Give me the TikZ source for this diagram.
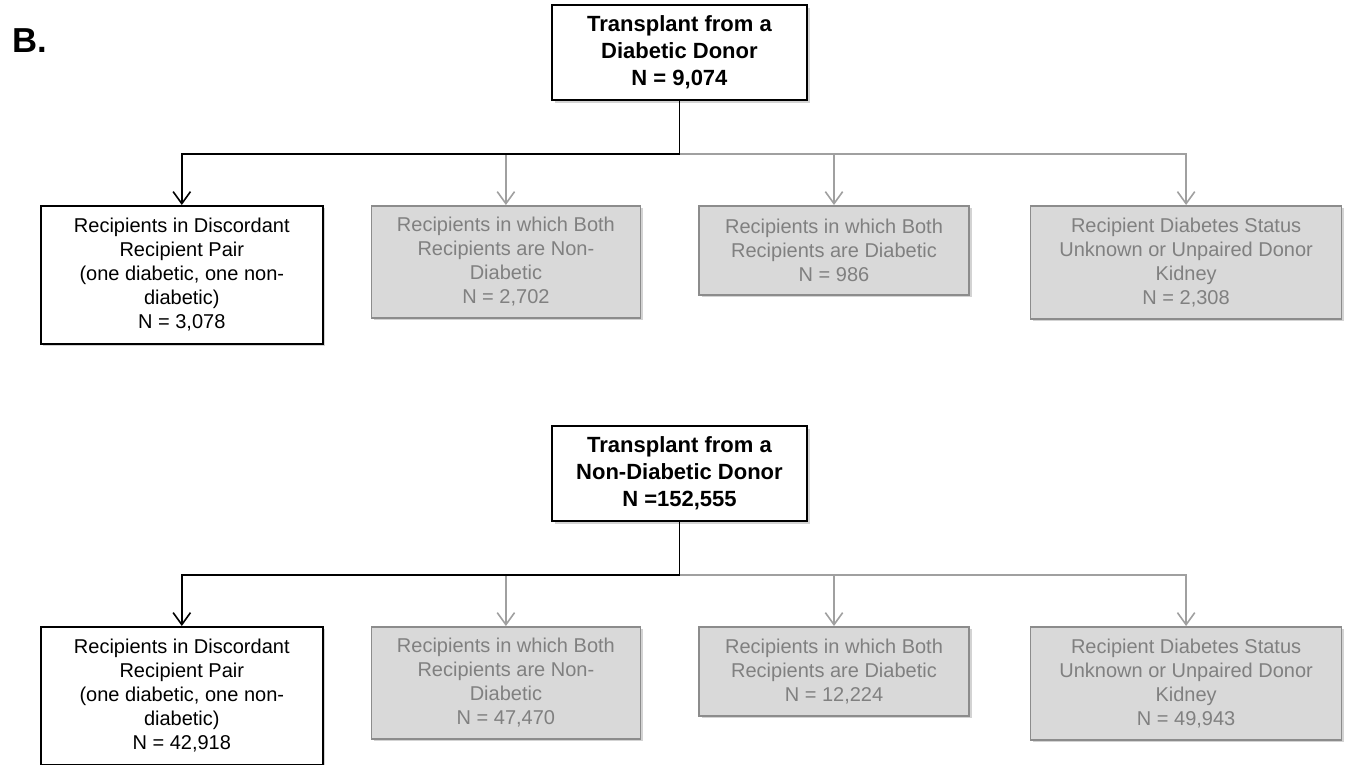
\documentclass[tikz,border=0pt]{standalone}
\usepackage{fontspec}
\setmainfont{Liberation Sans}
\usepackage{tikz}
\usetikzlibrary{positioning,arrows.meta,shadows}

\definecolor{boxgray}{HTML}{D9D9D9}
\definecolor{edgegray}{HTML}{8C8C8C}
\definecolor{textgray}{HTML}{808080}
\definecolor{linegray}{HTML}{A0A0A0}

\begin{document}
\begin{tikzpicture}[thick]

        % Styles
        \tikzstyle{donor} = [draw, rectangle, line width=1.2pt, fill=white, align=center, inner sep=2pt, minimum width=191.25pt, minimum height=71.25pt, font=\bfseries\fontsize{16.5pt}{20.25pt}\selectfont, drop shadow={shadow xshift=2pt, shadow yshift=-2pt, opacity=0.35}]
        \tikzstyle{keybox} = [draw, rectangle, line width=1.2pt, fill=white, align=center, inner sep=2pt, font=\fontsize{15pt}{18pt}\selectfont, drop shadow={shadow xshift=2pt, shadow yshift=-2pt, opacity=0.35}]
        \tikzstyle{graybox} = [draw=edgegray, rectangle, line width=1.2pt, fill=boxgray, text=textgray, align=center, inner sep=2pt, font=\fontsize{15pt}{18pt}\selectfont, drop shadow={shadow xshift=2pt, shadow yshift=-2pt, opacity=0.35}]
        \tikzstyle{blackarrow} = [line width=1.2pt, -{Straight Barb[length=9pt, width=13pt]}]
        \tikzstyle{grayarrow} = [line width=1.2pt, draw=linegray, -{Straight Barb[length=9pt, width=13pt]}]

        \useasboundingbox (0,0) rectangle (1008.75pt,-573pt);

        \node[font=\bfseries\fontsize{26pt}{30pt}\selectfont, anchor=north west, inner sep=0pt] (panel) at (9pt,-21pt) {B.};

        % Diabetic donor
        \node[donor] (dd) at (509.6pt,-39.4pt) {Transplant from a\\Diabetic Donor\\N = 9,074};
        \coordinate[below=39.75pt of dd.south] (ddsplit);
        \node[keybox, anchor=north west, minimum width=211.5pt, minimum height=103.5pt] (dd1) at (30pt,-153.75pt) {Recipients in Discordant\\Recipient Pair\\(one diabetic, one non-\\diabetic)\\N = 3,078};
        \node[graybox, right=35.25pt of dd1.north east, anchor=north west, minimum width=201.75pt, minimum height=84pt] (dd2) {Recipients in which Both\\Recipients are Non-\\Diabetic\\N = 2,702};
        \node[graybox, right=42.75pt of dd2.north east, anchor=north west, minimum width=202.5pt, minimum height=66.75pt] (dd3) {Recipients in which Both\\Recipients are Diabetic\\N = 986};
        \node[graybox, right=45pt of dd3.north east, anchor=north west, minimum width=233.25pt, minimum height=84.75pt] (dd4) {Recipient Diabetes Status\\Unknown or Unpaired Donor\\Kidney\\N = 2,308};

        \draw[grayarrow] (ddsplit) -| (dd4.north);
        \draw[grayarrow] (ddsplit) -| (dd3.north);
        \draw[grayarrow] (ddsplit) -| (dd2.north);
        \draw[blackarrow] (dd.south) -- (ddsplit) -| (dd1.north);

        % Non-diabetic donor
        \node[donor] (nd) at (509.6pt,-355.1pt) {Transplant from a\\Non-Diabetic Donor\\N =152,555};
        \coordinate[below=39.75pt of nd.south] (ndsplit);
        \node[keybox, anchor=north west, minimum width=211.5pt, minimum height=103.5pt] (nd1) at (30pt,-469.5pt) {Recipients in Discordant\\Recipient Pair\\(one diabetic, one non-\\diabetic)\\N = 42,918};
        \node[graybox, right=35.25pt of nd1.north east, anchor=north west, minimum width=201.75pt, minimum height=84pt] (nd2) {Recipients in which Both\\Recipients are Non-\\Diabetic\\N = 47,470};
        \node[graybox, right=42.75pt of nd2.north east, anchor=north west, minimum width=202.5pt, minimum height=66.75pt] (nd3) {Recipients in which Both\\Recipients are Diabetic\\N = 12,224};
        \node[graybox, right=45pt of nd3.north east, anchor=north west, minimum width=233.25pt, minimum height=84.75pt] (nd4) {Recipient Diabetes Status\\Unknown or Unpaired Donor\\Kidney\\N = 49,943};

        \draw[grayarrow] (ndsplit) -| (nd4.north);
        \draw[grayarrow] (ndsplit) -| (nd3.north);
        \draw[grayarrow] (ndsplit) -| (nd2.north);
        \draw[blackarrow] (nd.south) -- (ndsplit) -| (nd1.north);

\end{tikzpicture}
\end{document}
